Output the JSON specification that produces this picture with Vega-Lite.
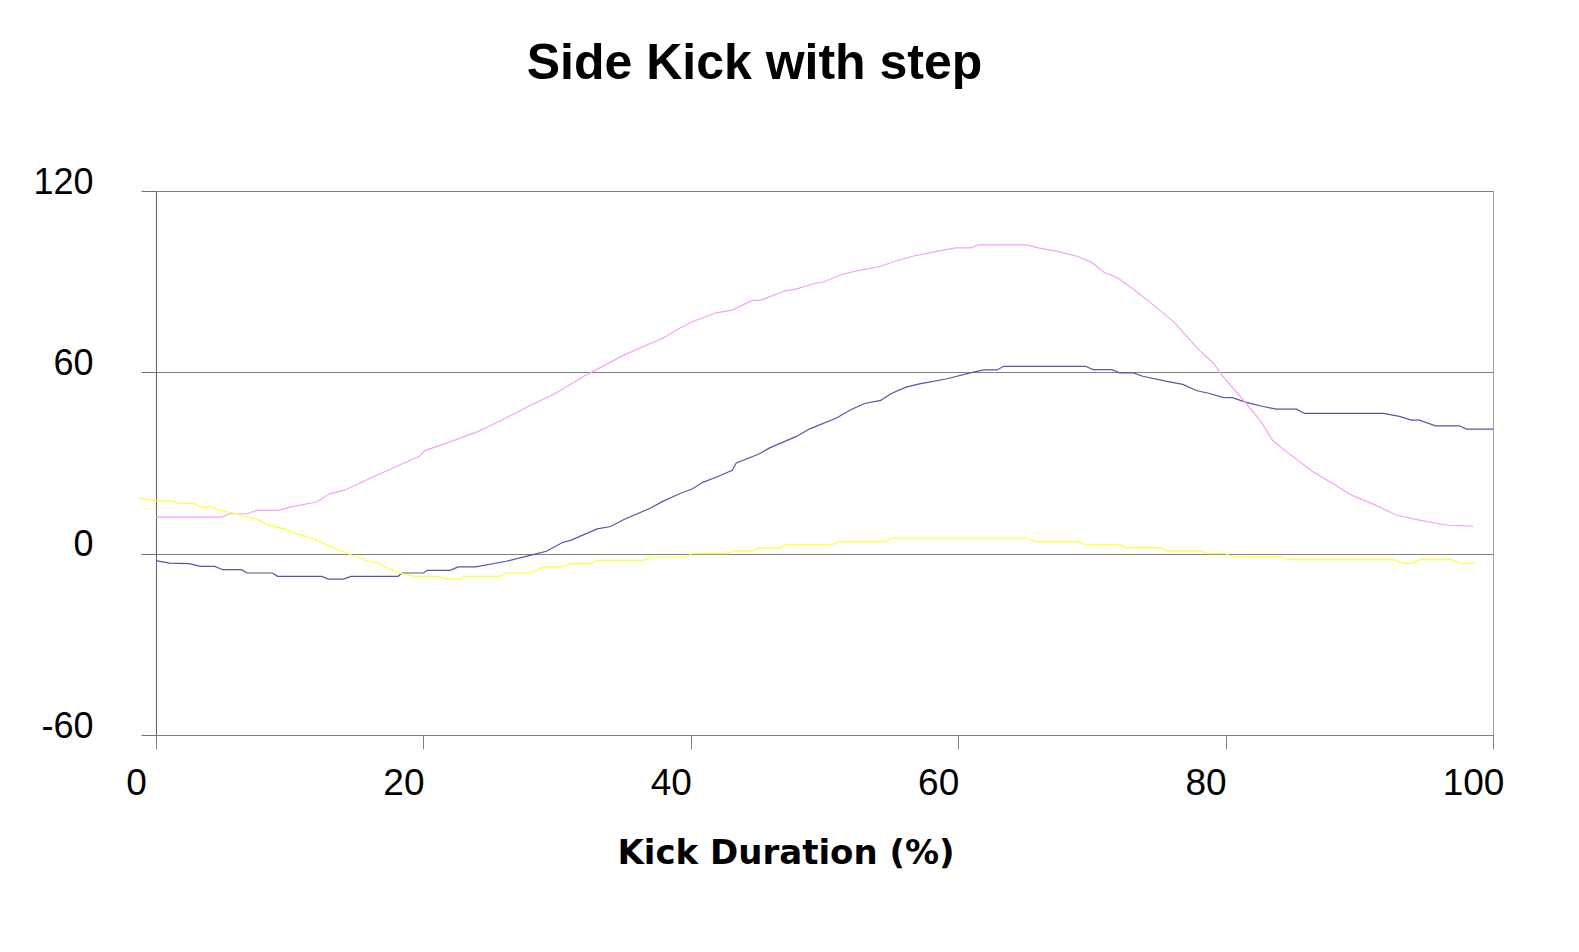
{
  "$schema": "https://vega.github.io/schema/vega-lite/v6.json",
  "autosize": {"type": "none"},
  "width": 1337,
  "height": 544,
  "padding": {"left": 156, "top": 191, "right": 86, "bottom": 217},
  "background": "white",
  "config": {"view": {"stroke": "#a0a0a0", "strokeWidth": 1}, "font": "Liberation Sans"},
  "title": {"text": "Side Kick with step", "font": "Liberation Sans", "fontSize": 50, "fontWeight": "bold", "color": "black", "anchor": "middle", "frame": "group", "dx": -70, "offset": 35, "baseline": "alphabetic"},
  "data": {"values": [
    {"series": "Series1", "x": 0, "y": -2.3},
    {"series": "Series1", "x": 1, "y": -3.1},
    {"series": "Series1", "x": 2.5, "y": -3.3},
    {"series": "Series1", "x": 3.3, "y": -4.2},
    {"series": "Series1", "x": 4.4, "y": -4.2},
    {"series": "Series1", "x": 5, "y": -5.3},
    {"series": "Series1", "x": 6.4, "y": -5.3},
    {"series": "Series1", "x": 6.8, "y": -6.4},
    {"series": "Series1", "x": 8.7, "y": -6.4},
    {"series": "Series1", "x": 9.1, "y": -7.5},
    {"series": "Series1", "x": 12.4, "y": -7.5},
    {"series": "Series1", "x": 12.9, "y": -8.4},
    {"series": "Series1", "x": 14, "y": -8.4},
    {"series": "Series1", "x": 14.6, "y": -7.5},
    {"series": "Series1", "x": 18.1, "y": -7.5},
    {"series": "Series1", "x": 18.4, "y": -6.4},
    {"series": "Series1", "x": 20, "y": -6.4},
    {"series": "Series1", "x": 20.3, "y": -5.5},
    {"series": "Series1", "x": 22, "y": -5.5},
    {"series": "Series1", "x": 22.6, "y": -4.4},
    {"series": "Series1", "x": 23.9, "y": -4.4},
    {"series": "Series1", "x": 26.2, "y": -2.5},
    {"series": "Series1", "x": 28.2, "y": -0.3},
    {"series": "Series1", "x": 29.2, "y": 0.8},
    {"series": "Series1", "x": 30.4, "y": 3.7},
    {"series": "Series1", "x": 31, "y": 4.4},
    {"series": "Series1", "x": 33, "y": 8.2},
    {"series": "Series1", "x": 34, "y": 9.0},
    {"series": "Series1", "x": 35, "y": 11.3},
    {"series": "Series1", "x": 37, "y": 15.1},
    {"series": "Series1", "x": 37.9, "y": 17.3},
    {"series": "Series1", "x": 39.2, "y": 19.9},
    {"series": "Series1", "x": 40.1, "y": 21.4},
    {"series": "Series1", "x": 40.9, "y": 23.6},
    {"series": "Series1", "x": 41.9, "y": 25.3},
    {"series": "Series1", "x": 43.1, "y": 27.6},
    {"series": "Series1", "x": 43.4, "y": 30},
    {"series": "Series1", "x": 45.1, "y": 33},
    {"series": "Series1", "x": 45.9, "y": 35},
    {"series": "Series1", "x": 47.9, "y": 38.8},
    {"series": "Series1", "x": 48.9, "y": 41.3},
    {"series": "Series1", "x": 50.9, "y": 44.9},
    {"series": "Series1", "x": 52, "y": 47.7},
    {"series": "Series1", "x": 53, "y": 49.7},
    {"series": "Series1", "x": 54.2, "y": 50.7},
    {"series": "Series1", "x": 55, "y": 53},
    {"series": "Series1", "x": 56.1, "y": 55.1},
    {"series": "Series1", "x": 57.1, "y": 56.2},
    {"series": "Series1", "x": 59.1, "y": 57.8},
    {"series": "Series1", "x": 60.9, "y": 59.8},
    {"series": "Series1", "x": 61.9, "y": 60.8},
    {"series": "Series1", "x": 62.9, "y": 60.8},
    {"series": "Series1", "x": 63.4, "y": 62},
    {"series": "Series1", "x": 69.5, "y": 62},
    {"series": "Series1", "x": 70.1, "y": 60.9},
    {"series": "Series1", "x": 71.5, "y": 60.9},
    {"series": "Series1", "x": 72.1, "y": 59.8},
    {"series": "Series1", "x": 73.1, "y": 59.8},
    {"series": "Series1", "x": 73.8, "y": 58.7},
    {"series": "Series1", "x": 75.6, "y": 57},
    {"series": "Series1", "x": 76.8, "y": 56},
    {"series": "Series1", "x": 77.8, "y": 54},
    {"series": "Series1", "x": 78.8, "y": 53},
    {"series": "Series1", "x": 79.8, "y": 51.7},
    {"series": "Series1", "x": 80.5, "y": 51.6},
    {"series": "Series1", "x": 81.6, "y": 50},
    {"series": "Series1", "x": 82.8, "y": 48.7},
    {"series": "Series1", "x": 83.8, "y": 47.8},
    {"series": "Series1", "x": 85.3, "y": 47.8},
    {"series": "Series1", "x": 85.9, "y": 46.4},
    {"series": "Series1", "x": 91.8, "y": 46.4},
    {"series": "Series1", "x": 93, "y": 45.4},
    {"series": "Series1", "x": 93.9, "y": 44.2},
    {"series": "Series1", "x": 94.5, "y": 44.2},
    {"series": "Series1", "x": 95.7, "y": 42.3},
    {"series": "Series1", "x": 97.5, "y": 42.3},
    {"series": "Series1", "x": 98, "y": 41.2},
    {"series": "Series1", "x": 100, "y": 41.2},

    {"series": "Series2", "x": 0, "y": 12.1},
    {"series": "Series2", "x": 4.9, "y": 12.1},
    {"series": "Series2", "x": 5.5, "y": 13.2},
    {"series": "Series2", "x": 6.8, "y": 13.2},
    {"series": "Series2", "x": 7.5, "y": 14.3},
    {"series": "Series2", "x": 9.1, "y": 14.3},
    {"series": "Series2", "x": 10.1, "y": 15.5},
    {"series": "Series2", "x": 12, "y": 17.1},
    {"series": "Series2", "x": 13, "y": 19.8},
    {"series": "Series2", "x": 14.1, "y": 21},
    {"series": "Series2", "x": 16.1, "y": 25.1},
    {"series": "Series2", "x": 18.1, "y": 29.1},
    {"series": "Series2", "x": 19.7, "y": 32.2},
    {"series": "Series2", "x": 20.1, "y": 34.1},
    {"series": "Series2", "x": 22, "y": 37},
    {"series": "Series2", "x": 24, "y": 40.3},
    {"series": "Series2", "x": 25, "y": 42.3},
    {"series": "Series2", "x": 28, "y": 49},
    {"series": "Series2", "x": 30, "y": 53.3},
    {"series": "Series2", "x": 32, "y": 58.7},
    {"series": "Series2", "x": 35, "y": 65.7},
    {"series": "Series2", "x": 38, "y": 71.5},
    {"series": "Series2", "x": 39.2, "y": 74.7},
    {"series": "Series2", "x": 40.2, "y": 76.9},
    {"series": "Series2", "x": 41.9, "y": 79.7},
    {"series": "Series2", "x": 43.1, "y": 80.6},
    {"series": "Series2", "x": 44.6, "y": 83.8},
    {"series": "Series2", "x": 45.2, "y": 83.8},
    {"series": "Series2", "x": 47, "y": 86.9},
    {"series": "Series2", "x": 47.9, "y": 87.6},
    {"series": "Series2", "x": 49.2, "y": 89.3},
    {"series": "Series2", "x": 49.9, "y": 89.9},
    {"series": "Series2", "x": 51.2, "y": 92.2},
    {"series": "Series2", "x": 52.3, "y": 93.5},
    {"series": "Series2", "x": 54.2, "y": 95.1},
    {"series": "Series2", "x": 55.5, "y": 97.1},
    {"series": "Series2", "x": 56.6, "y": 98.4},
    {"series": "Series2", "x": 58.1, "y": 99.8},
    {"series": "Series2", "x": 59.8, "y": 101.2},
    {"series": "Series2", "x": 61, "y": 101.2},
    {"series": "Series2", "x": 61.5, "y": 102.2},
    {"series": "Series2", "x": 65.1, "y": 102.2},
    {"series": "Series2", "x": 66, "y": 101.2},
    {"series": "Series2", "x": 67.4, "y": 100},
    {"series": "Series2", "x": 68.9, "y": 98.4},
    {"series": "Series2", "x": 70, "y": 96.3},
    {"series": "Series2", "x": 70.9, "y": 93.1},
    {"series": "Series2", "x": 71.9, "y": 91.3},
    {"series": "Series2", "x": 72.8, "y": 88.5},
    {"series": "Series2", "x": 74.3, "y": 83.4},
    {"series": "Series2", "x": 76.1, "y": 76.8},
    {"series": "Series2", "x": 78.1, "y": 67},
    {"series": "Series2", "x": 79.1, "y": 63},
    {"series": "Series2", "x": 79.8, "y": 58.6},
    {"series": "Series2", "x": 81.1, "y": 52},
    {"series": "Series2", "x": 82.6, "y": 44},
    {"series": "Series2", "x": 83.5, "y": 37.5},
    {"series": "Series2", "x": 84.6, "y": 33.6},
    {"series": "Series2", "x": 86.5, "y": 27.2},
    {"series": "Series2", "x": 88, "y": 23.2},
    {"series": "Series2", "x": 89.5, "y": 19.2},
    {"series": "Series2", "x": 91.3, "y": 15.9},
    {"series": "Series2", "x": 92.8, "y": 12.7},
    {"series": "Series2", "x": 94.5, "y": 11.1},
    {"series": "Series2", "x": 96.6, "y": 9.4},
    {"series": "Series2", "x": 98.5, "y": 9.1},

    {"series": "Series3", "x": -1.3, "y": 18.4},
    {"series": "Series3", "x": 0, "y": 17.5},
    {"series": "Series3", "x": 1.1, "y": 17.5},
    {"series": "Series3", "x": 1.7, "y": 16.6},
    {"series": "Series3", "x": 2.8, "y": 16.6},
    {"series": "Series3", "x": 3.4, "y": 15.5},
    {"series": "Series3", "x": 4.1, "y": 15.5},
    {"series": "Series3", "x": 4.8, "y": 14.3},
    {"series": "Series3", "x": 6, "y": 13.2},
    {"series": "Series3", "x": 7.5, "y": 11.5},
    {"series": "Series3", "x": 8.5, "y": 9.3},
    {"series": "Series3", "x": 9.6, "y": 8.2},
    {"series": "Series3", "x": 10.7, "y": 6.3},
    {"series": "Series3", "x": 11.6, "y": 5.2},
    {"series": "Series3", "x": 13, "y": 2.4},
    {"series": "Series3", "x": 14.4, "y": -0.1},
    {"series": "Series3", "x": 15.9, "y": -2.5},
    {"series": "Series3", "x": 16.7, "y": -3.3},
    {"series": "Series3", "x": 18.1, "y": -6.4},
    {"series": "Series3", "x": 19.4, "y": -7.5},
    {"series": "Series3", "x": 21.1, "y": -7.5},
    {"series": "Series3", "x": 21.7, "y": -8.4},
    {"series": "Series3", "x": 22.7, "y": -8.4},
    {"series": "Series3", "x": 23.1, "y": -7.5},
    {"series": "Series3", "x": 25.6, "y": -7.5},
    {"series": "Series3", "x": 26.2, "y": -6.4},
    {"series": "Series3", "x": 27.9, "y": -6.4},
    {"series": "Series3", "x": 29, "y": -4.4},
    {"series": "Series3", "x": 30.4, "y": -4.4},
    {"series": "Series3", "x": 31, "y": -3.3},
    {"series": "Series3", "x": 32.6, "y": -3.3},
    {"series": "Series3", "x": 33, "y": -2.2},
    {"series": "Series3", "x": 36.5, "y": -2.2},
    {"series": "Series3", "x": 37, "y": -1.1},
    {"series": "Series3", "x": 39.6, "y": -1.1},
    {"series": "Series3", "x": 40.1, "y": 0},
    {"series": "Series3", "x": 42.7, "y": 0},
    {"series": "Series3", "x": 43.2, "y": 0.9},
    {"series": "Series3", "x": 44.6, "y": 0.9},
    {"series": "Series3", "x": 45.1, "y": 1.9},
    {"series": "Series3", "x": 46.7, "y": 1.9},
    {"series": "Series3", "x": 47, "y": 2.9},
    {"series": "Series3", "x": 50.5, "y": 2.9},
    {"series": "Series3", "x": 51.1, "y": 4.0},
    {"series": "Series3", "x": 54.6, "y": 4.0},
    {"series": "Series3", "x": 55, "y": 5.1},
    {"series": "Series3", "x": 65.1, "y": 5.1},
    {"series": "Series3", "x": 65.8, "y": 4.0},
    {"series": "Series3", "x": 69, "y": 4.0},
    {"series": "Series3", "x": 69.5, "y": 2.9},
    {"series": "Series3", "x": 72.1, "y": 2.9},
    {"series": "Series3", "x": 72.5, "y": 2.0},
    {"series": "Series3", "x": 75.1, "y": 2.0},
    {"series": "Series3", "x": 75.6, "y": 0.9},
    {"series": "Series3", "x": 78.1, "y": 0.9},
    {"series": "Series3", "x": 78.6, "y": 0},
    {"series": "Series3", "x": 80, "y": 0},
    {"series": "Series3", "x": 80.5, "y": -1},
    {"series": "Series3", "x": 84.1, "y": -1},
    {"series": "Series3", "x": 84.7, "y": -2},
    {"series": "Series3", "x": 92.5, "y": -2},
    {"series": "Series3", "x": 93.3, "y": -3.1},
    {"series": "Series3", "x": 94, "y": -3.1},
    {"series": "Series3", "x": 94.5, "y": -2},
    {"series": "Series3", "x": 96.9, "y": -2},
    {"series": "Series3", "x": 97.5, "y": -3.1},
    {"series": "Series3", "x": 98.6, "y": -3.2}
  ]},
  "mark": {"type": "line", "strokeWidth": 1.2, "clip": false},
  "encoding": {
    "x": {
      "field": "x", "type": "quantitative",
      "scale": {"domain": [0, 100], "nice": false, "zero": false},
      "axis": {
        "values": [0, 20, 40, 60, 80, 100],
        "title": "Kick Duration (%)",
        "titleFont": "DejaVu Sans", "titleFontSize": 34, "titleFontWeight": "bold", "titleColor": "black",
        "titleX": 629.5, "titleY": 128, "titleBaseline": "alphabetic", "titleAlign": "center",
        "labelFont": "Liberation Sans", "labelFontSize": 37, "labelColor": "black",
        "labelOffset": -20, "labelPadding": 16, "labelFlush": false, "labelOverlap": false,
        "tickSize": 14, "tickColor": "#808080", "domainColor": "#808080", "grid": false
      }
    },
    "y": {
      "field": "y", "type": "quantitative",
      "scale": {"domain": [-60, 120], "nice": false, "zero": false},
      "axis": {
        "values": [-60, 0, 60, 120],
        "title": null,
        "labelExpr": "'' + datum.value",
        "labelFont": "Liberation Sans", "labelFontSize": 36, "labelColor": "black",
        "labelBaseline": "alphabetic", "labelOffset": 2, "labelPadding": 48, "labelFlush": false, "labelOverlap": false,
        "tickSize": 15, "tickColor": "#707070", "domainColor": "#606060",
        "grid": true, "gridColor": "#808080"
      }
    },
    "color": {
      "field": "series", "type": "nominal",
      "scale": {"domain": ["Series1", "Series2", "Series3"], "range": ["#5555aa", "#f7a0f7", "#ffff33"]},
      "legend": null
    }
  }
}
